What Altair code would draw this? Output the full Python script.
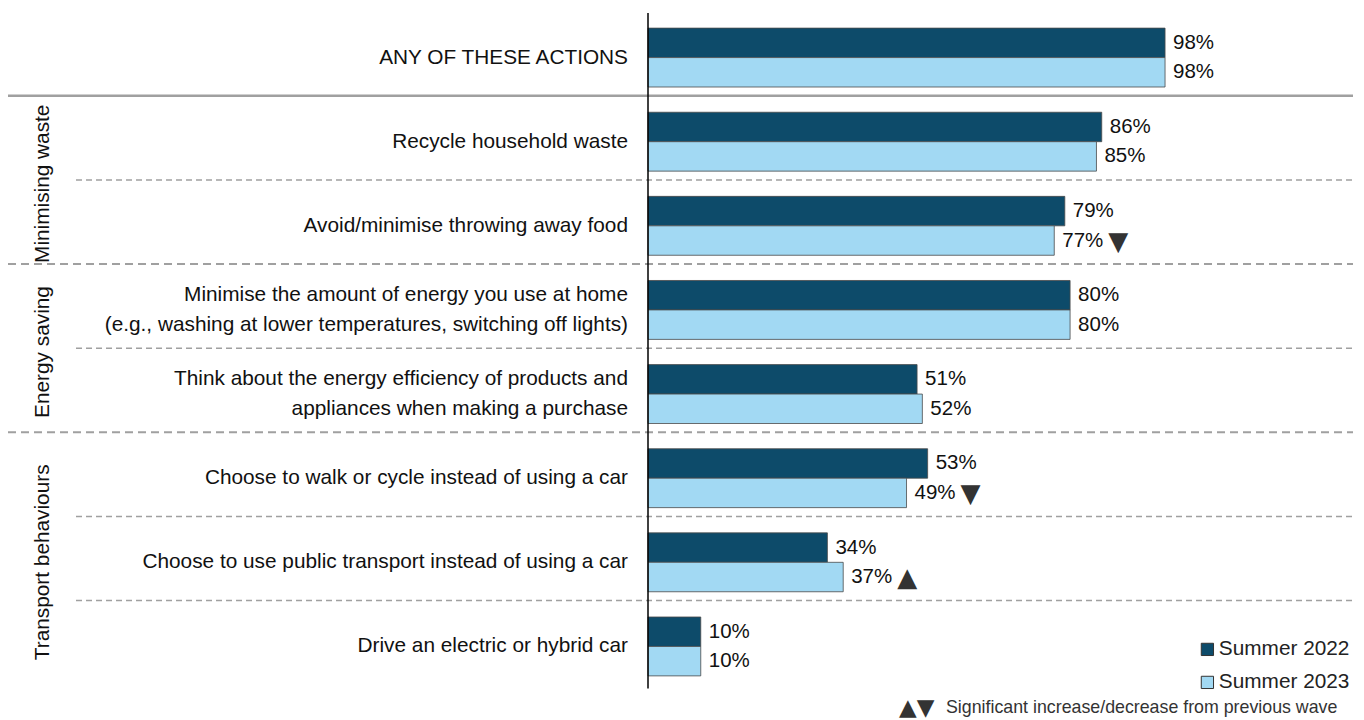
import altair as alt
import pandas as pd

categories = [
    "ANY OF THESE ACTIONS",
    "Recycle household waste",
    "Avoid/minimise throwing away food",
    "Minimise the amount of energy you use at home\n(e.g., washing at lower temperatures, switching off lights)",
    "Think about the energy efficiency of products and\nappliances when making a purchase",
    "Choose to walk or cycle instead of using a car",
    "Choose to use public transport instead of using a car",
    "Drive an electric or hybrid car",
]
groups = ["", "Minimising waste", "Minimising waste", "Energy saving", "Energy saving",
          "Transport behaviours", "Transport behaviours", "Transport behaviours"]
series = ["Summer 2022", "Summer 2023"]
summer_2022 = [98, 86, 79, 80, 51, 53, 34, 10]
summer_2023 = [98, 85, 77, 80, 52, 49, 37, 10]
change_2022 = ["", "", "", "", "", "", "", ""]
change_2023 = ["", "", "▼", "", "", "▼", "▲", ""]
footnote_symbols = "▲▼"
footnote_text = "Significant increase/decrease from previous wave"

DARK = "#0d4b6a"
LIGHT = "#a2d9f3"
FONT = "Liberation Sans"
FS = 20.8
BAR = 0.35
SEP_SHIFT = 0.455
ROW_PX = 84.14
LINE_H = 30

# ---- tables built from the arrays ----
bar_rows = []
for i in range(len(categories)):
    for s_i, (name, vals, chg) in enumerate(
        [(series[0], summer_2022, change_2022), (series[1], summer_2023, change_2023)]
    ):
        top = i - BAR + s_i * BAR
        bar_rows.append(dict(row=i, series=name, value=vals[i], label=f"{vals[i]}%",
                             sig=chg[i], y_top=top, y_bot=top + BAR, y_mid=top + BAR / 2))
bars_df = pd.DataFrame(bar_rows)

cat_df = pd.DataFrame({
    "row": [i - (c.count("\n")) * (LINE_H / ROW_PX) / 2 for i, c in enumerate(categories)],
    "label": categories,
})

grp_rows = []
for g in dict.fromkeys(groups):
    if g:
        idx = [i for i, gg in enumerate(groups) if gg == g]
        grp_rows.append(dict(group=g, center=sum(idx) / len(idx)))
grp_df = pd.DataFrame(grp_rows)

solid, dashed_group, dashed_row = [], [], []
for i in range(len(categories) - 1):
    pos = i + SEP_SHIFT
    if groups[i] != groups[i + 1]:
        (solid if groups[i] == "" else dashed_group).append(pos)
    else:
        dashed_row.append(pos)

yscale = alt.Scale(domain=[-0.5, len(categories) - 0.5], range=[7.5, 680.5], nice=False, zero=False)
xscale = alt.Scale(domain=[0, 100], range=[640, 1167.6], nice=False, zero=False)

bars = alt.Chart(bars_df).mark_bar(stroke="#4a4a4a", strokeWidth=0.8).encode(
    x=alt.X("value:Q", scale=xscale, axis=None),
    x2=alt.datum(0),
    y=alt.Y("y_top:Q", scale=yscale, axis=None),
    y2="y_bot:Q",
    color=alt.Color(
        "series:N",
        scale=alt.Scale(domain=series, range=[DARK, LIGHT]),
        legend=alt.Legend(
            orient="none", legendX=1189, legendY=631, title=None, direction="vertical",
            symbolType="square", symbolSize=150, symbolStrokeColor="#333", symbolStrokeWidth=1,
            labelFont=FONT, labelFontSize=FS, labelColor="#222", rowPadding=11,
            labelOffset=1, padding=0,
        ),
    ),
)

values = alt.Chart(bars_df).mark_text(
    align="left", baseline="middle", dx=8, font=FONT, fontSize=20.5, color="#111"
).encode(
    x=alt.X("value:Q", scale=xscale, axis=None),
    y=alt.Y("y_mid:Q", scale=yscale, axis=None),
    text="label:N",
)

markers = alt.Chart(bars_df).transform_filter("datum.sig != ''").mark_text(
    align="left", baseline="middle", dx=54, dy=1, font="DejaVu Sans", fontSize=26, color="#333"
).encode(
    x=alt.X("value:Q", scale=xscale, axis=None),
    y=alt.Y("y_mid:Q", scale=yscale, axis=None),
    text="sig:N",
)

cat_labels = alt.Chart(cat_df).mark_text(
    align="right", baseline="middle", lineBreak="\n", lineHeight=LINE_H,
    font=FONT, fontSize=FS, color="#111"
).encode(
    x=alt.value(620),
    y=alt.Y("row:Q", scale=yscale, axis=None),
    text="label:N",
)

grp_labels = alt.Chart(grp_df).mark_text(
    angle=270, align="center", baseline="middle", font=FONT, fontSize=FS, color="#111"
).encode(
    x=alt.value(35),
    y=alt.Y("center:Q", scale=yscale, axis=None),
    text="group:N",
)

sep_solid = alt.Chart(pd.DataFrame({"pos": solid})).mark_rule(
    color="#a0a0a0", strokeWidth=2.5
).encode(x=alt.value(0), x2=alt.value(1345), y=alt.Y("pos:Q", scale=yscale, axis=None))

sep_group = alt.Chart(pd.DataFrame({"pos": dashed_group})).mark_rule(
    color="#a0a0a0", strokeWidth=2, strokeDash=[8, 5]
).encode(x=alt.value(0), x2=alt.value(1345), y=alt.Y("pos:Q", scale=yscale, axis=None))

sep_row = alt.Chart(pd.DataFrame({"pos": dashed_row})).mark_rule(
    color="#a0a0a0", strokeWidth=1.5, strokeDash=[6, 4]
).encode(x=alt.value(68), x2=alt.value(1345), y=alt.Y("pos:Q", scale=yscale, axis=None))

axis_line = alt.Chart(pd.DataFrame({"x": [0], "y0": [-0.53], "y1": [len(categories) - 0.5]})).mark_rule(
    color="#000", strokeWidth=1.5
).encode(
    x=alt.X("x:Q", scale=xscale, axis=None),
    y=alt.Y("y0:Q", scale=yscale, axis=None),
    y2="y1:Q",
)

foot_df = pd.DataFrame({"sym": [footnote_symbols], "txt": [footnote_text]})
foot_sym = alt.Chart(foot_df).mark_text(
    align="left", baseline="middle", font="DejaVu Sans", fontSize=23, color="#333"
).encode(x=alt.value(891), y=alt.value(700), text="sym:N")
foot_txt = alt.Chart(foot_df).mark_text(
    align="left", baseline="middle", font=FONT, fontSize=17.8, color="#333"
).encode(x=alt.value(938), y=alt.value(700), text="txt:N")

chart = alt.layer(
    sep_solid, sep_group, sep_row, bars, axis_line, values, markers,
    cat_labels, grp_labels, foot_sym, foot_txt
).properties(
    width=1348, height=712, padding=0, autosize=alt.AutoSizeParams(type="none")
).configure_view(stroke=None)

chart.save("out.html", embed_options={"renderer": "svg", "actions": False})
